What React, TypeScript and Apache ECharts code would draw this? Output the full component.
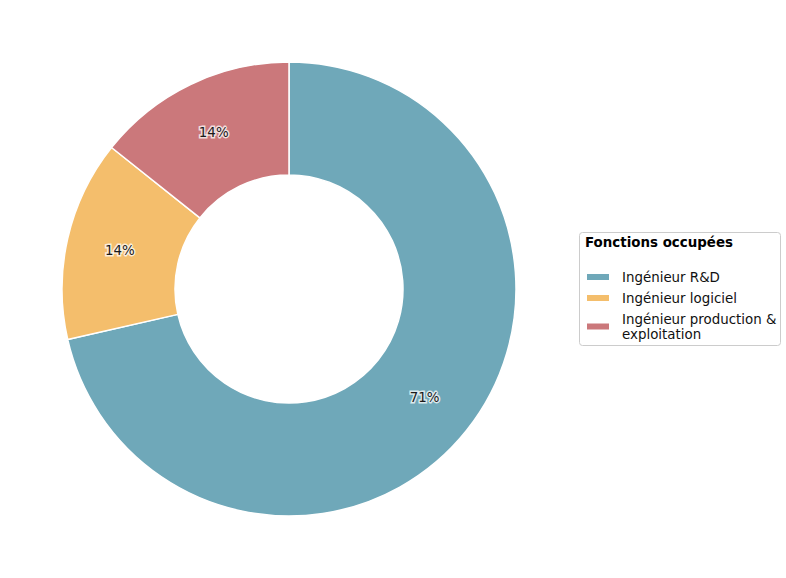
import React, { useEffect, useRef } from "react";
import * as echarts from "echarts";

const categories = ["Ingénieur R&D", "Ingénieur logiciel", "Ingénieur production & exploitation"];
const values = [5, 1, 1];
const colors = ["#6fa8b9", "#f4be6c", "#cb787b"];
const legendTitle = "Fonctions occupées";

export default function App() {
  const ref = useRef<HTMLDivElement>(null);
  useEffect(() => {
    if (!ref.current) return;
    const chart = echarts.init(ref.current, null, { renderer: "svg" });
    const font = "'DejaVu Sans', sans-serif";
    chart.setOption({
      animation: false,
      backgroundColor: "#ffffff",
      textStyle: { fontFamily: font },
      legend: {
        orient: "vertical",
        left: 585,
        top: 269.5,
        itemWidth: 24,
        itemHeight: 8,
        itemGap: 6,
        icon: "rect",
        padding: 0,
        textStyle: {
          fontSize: 13.4,
          lineHeight: 15,
          color: "#111",
          fontFamily: font,
          padding: [0, 0, 0, 7],
        },
        formatter: (name: string) =>
          name === "Ingénieur production & exploitation" ? "Ingénieur production &\nexploitation" : name,
        data: categories,
      },
      graphic: [
        {
          type: "rect",
          shape: { x: 579.5, y: 232.5, width: 201, height: 113, r: 3 },
          style: { fill: "rgba(255,255,255,0.8)", stroke: "#cccccc", lineWidth: 1 },
          z: -1,
        },
        {
          type: "text",
          left: 585,
          top: 236,
          style: { text: legendTitle, font: `bold 13.4px ${font}`, fill: "#000" },
        },
      ],
      series: [
        {
          type: "pie",
          center: [289, 289],
          radius: [114, 227],
          startAngle: 90,
          clockwise: true,
          avoidLabelOverlap: false,
          itemStyle: { borderColor: "#ffffff", borderWidth: 1.5 },
          label: {
            position: "inside",
            formatter: (p: any) => `${Math.round(p.percent)}%`,
            fontSize: 13.4,
            fontFamily: font,
            color: "#1a1a1a",
            textBorderColor: "rgba(255,255,255,0.75)",
            textBorderWidth: 3,
          },
          labelLine: { show: false },
          emphasis: { disabled: true },
          data: categories.map((c, i) => ({ name: c, value: values[i], itemStyle: { color: colors[i] } })),
        },
      ],
    });
    return () => chart.dispose();
  }, []);
  return <div ref={ref} style={{ position: "absolute", left: 0, top: 0, width: 786, height: 578 }} />;
}
